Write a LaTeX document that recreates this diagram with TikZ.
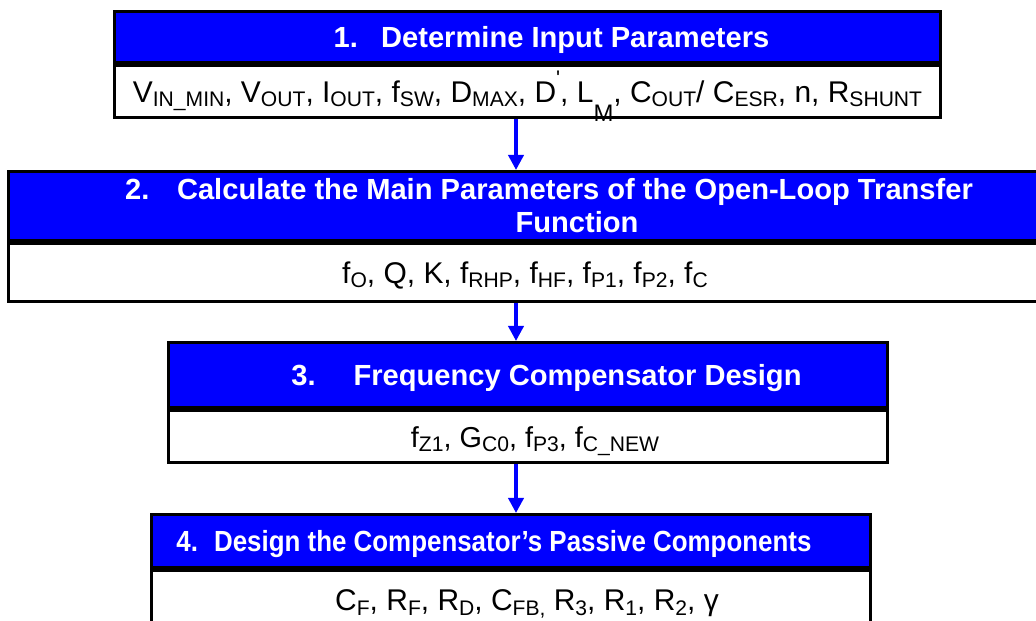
\documentclass[tikz,border=0pt]{standalone}
\usepackage{fontspec}
\setmainfont{Liberation Sans}
\newfontfamily\squeezefont{Liberation Sans}[FakeStretch=0.89]
\usepackage{tikz}
\usetikzlibrary{arrows.meta}

\newcommand{\lowsub}[1]{\raisebox{-0.16em}{\fontsize{15}{15}\selectfont #1}}
\newcommand{\highsup}[1]{\raisebox{0.55em}{\fontsize{15}{15}\selectfont #1}}

\begin{document}
\begin{tikzpicture}[x=0.025cm, y=-0.025cm,
  titlebox/.style={draw=black, line width=2.1pt, fill=blue, text=white, anchor=north,
    inner sep=0pt, font=\fontsize{20.7}{23.5}\selectfont\bfseries, text height=14.8pt, text depth=0pt},
  bodybox/.style={draw=black, line width=2.1pt, fill=white, anchor=north,
    inner sep=0pt, font=\fontsize{21.3}{24}\selectfont, text height=15.2pt, text depth=0pt},
  flow/.style={blue, line width=2.6pt, -{Triangle[length=0.38cm, width=0.38cm]}}]
\useasboundingbox (0,0) rectangle (1036,620);
\clip (0,0) rectangle (1036,620);
% step 1
\node[titlebox, minimum width=20.625cm, minimum height=1.275cm] (t1) at (527.5,10)
  {\hspace*{1.2cm}1.\hspace{0.8em}Determine Input Parameters};
\node[bodybox, minimum width=20.625cm, minimum height=1.3cm] (b1) at (t1.south)
  {V\lowsub{IN\_MIN}, V\lowsub{OUT}, I\lowsub{OUT}, f\lowsub{SW}, D\lowsub{MAX}, D\highsup{\textquotesingle}, L\raisebox{-13.5pt}{\fontsize{17}{17}\selectfont M}, C\lowsub{OUT}/ C\lowsub{ESR}, n, R\lowsub{SHUNT}};
% step 2 (runs off the right edge)
\node[titlebox, minimum width=25.8cm, minimum height=1.725cm, align=center, text height=38.3pt] (t2) at (525,170)
  {\hspace*{1.2cm}2.\hspace{0.95em}Calculate the Main Parameters of the Open-Loop Transfer\\
   \hspace*{2.6cm}Function};
\node[bodybox, minimum width=25.8cm, minimum height=1.45cm] (b2) at (t2.south)
  {f\lowsub{O}, Q, K, f\lowsub{RHP}, f\lowsub{HF}, f\lowsub{P1}, f\lowsub{P2}, f\lowsub{C}};
% step 3
\node[titlebox, minimum width=17.95cm, minimum height=1.625cm] (t3) at (528,341)
  {\hspace*{0.925cm}3.\hspace{1.3em}Frequency Compensator Design};
\node[bodybox, minimum width=17.95cm, minimum height=1.3cm, font=\fontsize{20.5}{24}\selectfont] (b3) at (t3.south)
  {\hspace*{0.35cm}f\lowsub{Z1}, G\lowsub{C0}, f\lowsub{P3}, f\lowsub{C\_NEW}};
% step 4
\node[titlebox, minimum width=17.95cm, minimum height=1.325cm] (t4) at (511,513)
  {\squeezefont\hspace*{-0.85cm}4.\hspace{0.55em}Design the Compensator’s Passive Components};
\node[bodybox, minimum width=17.95cm, minimum height=1.475cm] (b4) at (t4.south)
  {\hspace*{0.8cm}C\lowsub{F}, R\lowsub{F}, R\lowsub{D}, C\lowsub{FB,} R\lowsub{3}, R\lowsub{1}, R\lowsub{2}, γ};
% arrows between the steps
\coordinate (ax) at (516,0);
\draw[flow] (b1.south -| ax) -- (t2.north -| ax);
\draw[flow] (b2.south -| ax) -- (t3.north -| ax);
\draw[flow] (b3.south -| ax) -- (t4.north -| ax);
\end{tikzpicture}
\end{document}
